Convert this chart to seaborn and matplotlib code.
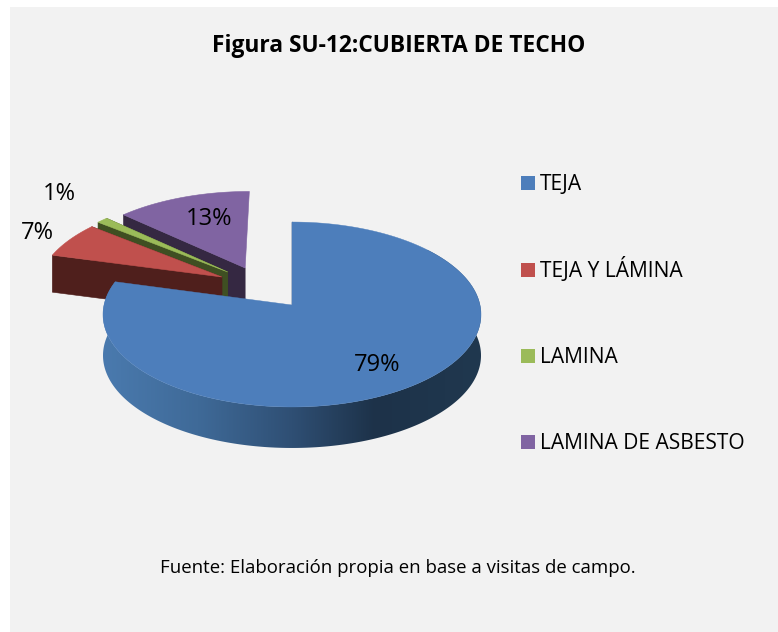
import numpy as np
import matplotlib
matplotlib.use("Agg")
import matplotlib.pyplot as plt
from matplotlib.patches import Polygon, Rectangle
from matplotlib.colors import LinearSegmentedColormap
import seaborn as sns

categories = ["TEJA", "TEJA Y LÁMINA", "LAMINA", "LAMINA DE ASBESTO"]
values = [79.2, 6.5, 1.1, 13.2]
value_labels = ["79%", "7%", "1%", "13%"]
title = "Figura SU-12:CUBIERTA DE TECHO"
source = "Fuente: Elaboración propia en base a visitas de campo."

sns.set_theme(style="white")
FONT = ["Open Sans", "DejaVu Sans"]
plt.rcParams["font.family"] = FONT

top_colors = sns.color_palette(["#4d7ebb", "#c0504d", "#9bbb59", "#8064a2"])
wall_colors = sns.color_palette(["#1f3550", "#4f1f1c", "#3f4f22", "#352842"])

# Projection of the tilted disc on to the pixel canvas
CX, CY, A, B, K, DEPTH = 292.0, 305.0, 188.0, 91.5, 0.1027, 41.0
# Displacement of each slice in disc units (sin, cos axis)
explode = [(0.0, 0.0), (-0.385, 0.316), (-0.355, 0.3745), (-0.26, 0.422)]
label_xy = [(377, 365), (37, 233), (59, 194), (209, 219)]
legend_rows = [183, 270, 356, 442]


def project(s, c):
    w = 1 + K * c
    return CX + A * s / w, CY - B * c / w


fig = plt.figure(figsize=(7.78, 6.32), dpi=100, facecolor="white")
ax = fig.add_axes([0, 0, 1, 1])
ax.set_xlim(0, 778)
ax.set_ylim(632, 0)
ax.axis("off")
ax.add_patch(Rectangle((10, 7), 768, 625, fc="#f2f2f2", ec="none", zorder=0))

fractions = np.array(values, dtype=float) / np.sum(values)
edges = np.concatenate([[0], np.cumsum(fractions)]) * 2 * np.pi

slices = []
for i in range(len(values)):
    t = np.linspace(edges[i], edges[i + 1], max(12, int(values[i] * 6)))
    ox, oy = explode[i]
    rx, ry = project(np.sin(t) + ox, np.cos(t) + oy)
    ax_, ay_ = project(ox, oy)
    slices.append(dict(rim=np.column_stack([rx, ry]), apex=np.array([ax_, ay_])))

# Back slices first, the large front slice last
for i, z in zip([3, 2, 1], [2, 3, 4]):
    s = slices[i]
    top = np.vstack([s["apex"], s["rim"]])
    first = s["rim"][0]
    d = np.array([0, DEPTH - 4])
    face = np.array([s["apex"], first, first + d, s["apex"] + d])
    ax.add_patch(Polygon(face, closed=True, fc=wall_colors[i], ec=wall_colors[i], lw=0.4, zorder=z))
    last = s["rim"][-1]
    if i != 3:
        face2 = np.array([s["apex"], last, last + d, s["apex"] + d])
        ax.add_patch(Polygon(face2, closed=True, fc=wall_colors[i], ec=wall_colors[i], lw=0.4, zorder=z))
    ax.add_patch(Polygon(top, closed=True, fc=top_colors[i], ec=top_colors[i], lw=0.4, zorder=z + 0.5))

# Large slice: curved shaded wall, then the top
s = slices[0]
rim = s["rim"]
wall = np.vstack([rim, (rim + [0, DEPTH])[::-1]])
wall_patch = Polygon(wall, closed=True, fc="none", ec="none", zorder=5)
ax.add_patch(wall_patch)
cmap = LinearSegmentedColormap.from_list(
    "wall",
    [(0.0, "#4a7aae"), (0.25, "#3f6a98"), (0.5, "#2f4f74"), (0.72, "#1d3249"), (1.0, "#20384f")],
)
x0, x1 = rim[:, 0].min(), rim[:, 0].max()
im = ax.imshow(np.linspace(0, 1, 256)[None, :], extent=(x0, x1, 470, 250), cmap=cmap,
               aspect="auto", zorder=5, interpolation="bilinear")
im.set_clip_path(wall_patch)
ax.set_xlim(0, 778)
ax.set_ylim(632, 0)
ax.plot([s["apex"][0], rim[0, 0]], [s["apex"][1], rim[0, 1]], color="#22384f", lw=1.0, zorder=5.5)
ax.add_patch(Polygon(np.vstack([s["apex"], rim]), closed=True, fc=top_colors[0], ec=top_colors[0],
                     lw=0.3, zorder=6))

for txt, (x, y) in zip(value_labels, label_xy):
    ax.text(x, y, txt, fontsize=17, color="black", ha="center", va="center", zorder=8)

ax.text(398.5, 46, title, fontsize=16.4, fontweight="bold", color="black", ha="center", va="center")
ax.text(397.5, 568, source, fontsize=13.4, color="black", ha="center", va="center")

for name, color, row in zip(categories, top_colors, legend_rows):
    ax.add_patch(Rectangle((521, row - 7), 14, 14, fc=color, ec="none", zorder=8))
    ax.text(540, row + 7, name, fontsize=15.1, color="black", ha="left", va="baseline", zorder=8)

fig.savefig("out.png", dpi=100, facecolor=fig.get_facecolor())
